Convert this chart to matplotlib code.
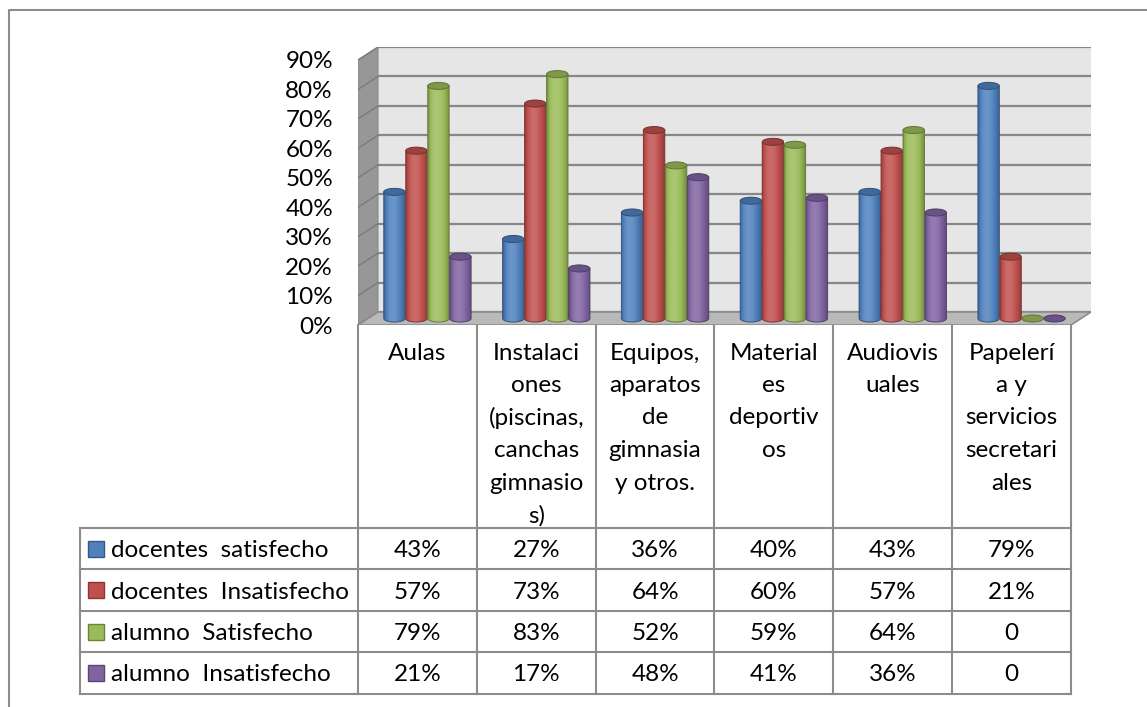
import numpy as np
import matplotlib
matplotlib.use('Agg')
import matplotlib.pyplot as plt
from matplotlib.patches import Polygon, Ellipse, Rectangle, PathPatch
from matplotlib.path import Path
from matplotlib.colors import to_rgb

plt.rcParams['font.family'] = ['Lato', 'DejaVu Sans']

# datos
categorias = ['Aulas',
              'Instalaci\nones\n(piscinas,\ncanchas\ngimnasio\ns)',
              'Equipos,\naparatos\nde\ngimnasia\ny otros.',
              'Material\nes\ndeportiv\nos',
              'Audiovis\nuales',
              'Papelerí\na y\nservicios\nsecretari\nales']
series = ['docentes  satisfecho', 'docentes  Insatisfecho',
          'alumno  Satisfecho', 'alumno  Insatisfecho']
docentes_satisfecho = [43, 27, 36, 40, 43, 79]
docentes_insatisfecho = [57, 73, 64, 60, 57, 21]
alumno_satisfecho = [79, 83, 52, 59, 64, 0]
alumno_insatisfecho = [21, 17, 48, 41, 36, 0]
valores = [docentes_satisfecho, docentes_insatisfecho,
           alumno_satisfecho, alumno_insatisfecho]
y_ticks = [0, 10, 20, 30, 40, 50, 60, 70, 80, 90]
colores = ['#4F81BD', '#C0504D', '#9BBB59', '#8064A2']

W, H = 1147, 707
FS = 17.5
gris = '#8C8C8C'


def tono(c, f):
    c = np.array(to_rgb(c))
    if f < 1:
        return c * f
    return c + (1 - c) * (f - 1)


fig = plt.figure(figsize=(W / 100, H / 100), dpi=100)

# capa de fondo en pixeles: marco y tabla
bg = fig.add_axes([0, 0, 1, 1])
bg.set_xlim(0, W)
bg.set_ylim(H, 0)
bg.axis('off')
bg.plot([9, 9, W], [H, 10, 10], color=gris, lw=1.5)

# grafico 3D simulado en coordenadas de datos
px_cat = 118.83
px_pct = 265 / 90
ax = fig.add_axes([358 / W, (H - 325) / H, 733 / W, 278 / H])
ddx = 20 / px_cat
ddy = 13 / px_pct
n = len(categorias)
ymax = max(y_ticks)

# paredes
ax.add_patch(Polygon([(ddx, ddy), (n + ddx, ddy), (n + ddx, ymax + ddy), (ddx, ymax + ddy)],
                     facecolor='#E6E6E6', edgecolor='none', zorder=1))
ax.add_patch(Polygon([(0, 0), (ddx, ddy), (ddx, ymax + ddy), (0, ymax)],
                     facecolor='#979797', edgecolor='#8A8A8A', lw=0.8, zorder=1))
for v in y_ticks:
    ax.plot([ddx, n + ddx], [v + ddy, v + ddy], color='#878787', lw=1.6, zorder=1.5,
            solid_capstyle='butt')
    ax.plot([0, ddx], [v, v + ddy], color='#7A7A7A', lw=1.0, zorder=1.5)
ax.add_patch(Polygon([(0, 0), (n, 0), (n + ddx, ddy), (ddx, ddy)],
                     facecolor='#B9B9B9', edgecolor='#8C8C8C', lw=1.2, zorder=1.6))

# cilindros
paso = 0.185
ancho = 0.18
eh = 2.4
t = np.linspace(0, 1, 80)
brillo = 0.74 + 0.42 * np.sin(np.pi * t ** 0.75)
ang = np.linspace(np.pi, 2 * np.pi, 40)
for i in range(n):
    for k, (vals, col) in enumerate(zip(valores, colores)):
        v = vals[i]
        xc = i + 0.5 + ddx / 2 + (k - 1.5) * paso
        x0, x1 = xc - ancho / 2, xc + ancho / 2
        y0 = ddy / 2
        y1 = y0 + v
        z = 3 + i * 10 + k
        if v > 0:
            verts = [(x0, y1), (x0, y0)]
            verts += [(xc + ancho / 2 * np.cos(a), y0 + eh / 2 * np.sin(a)) for a in ang]
            verts += [(x1, y1), (x0, y1)]
            img = np.array([[tono(col, f) for f in brillo]])
            im = ax.imshow(img, extent=[x0, x1, y0 - eh / 2, y1], aspect='auto',
                           interpolation='bilinear', zorder=z)
            clip = PathPatch(Path(verts), transform=ax.transData)
            im.set_clip_path(clip)
            ax.add_patch(Polygon(verts, closed=True, fill=False,
                                 edgecolor=tono(col, 0.65), lw=0.7, zorder=z + 0.1))
        ax.add_patch(Ellipse((xc, y1), ancho, eh, facecolor=tono(col, 0.82),
                             edgecolor=tono(col, 0.62), lw=0.7, zorder=z + 0.2))

for v in y_ticks:
    ax.text(-25 / px_cat, v, f'{v}%', ha='right', va='center_baseline', fontsize=FS)

ax.set_xlim(0, n + ddx)
ax.set_ylim(0, 278 / px_pct)
ax.axis('off')

# tabla de datos
x_tab = 358
x_leg = 80
y_head = 325
y_filas = 528
h_fila = 41.4
y_fin = y_filas + h_fila * len(series)
for i in range(n + 1):
    x = x_tab + i * px_cat
    bg.plot([x, x], [y_head, y_fin], color=gris, lw=1.5)
bg.plot([x_leg, x_leg], [y_filas, y_fin], color=gris, lw=1.5)
for j in range(len(series) + 1):
    y = y_filas + j * h_fila
    bg.plot([x_leg, x_tab + n * px_cat], [y, y], color=gris, lw=1.5)

for i, cat in enumerate(categorias):
    for l, linea in enumerate(cat.split('\n')):
        bg.text(x_tab + (i + 0.5) * px_cat, 351 + l * 32.5, linea, ha='center',
                va='center_baseline', fontsize=FS)

for j, (nombre, vals, col) in enumerate(zip(series, valores, colores)):
    yc = y_filas + (j + 0.5) * h_fila
    bg.add_patch(Rectangle((88, yc - 8), 16, 16, facecolor=col,
                           edgecolor=tono(col, 0.7), lw=1))
    bg.text(111, yc, nombre, ha='left', va='center_baseline', fontsize=FS)
    for i, v in enumerate(vals):
        bg.text(x_tab + (i + 0.5) * px_cat, yc, f'{v}%' if v else '0',
                ha='center', va='center_baseline', fontsize=FS)

fig.savefig('out.png', dpi=100)
